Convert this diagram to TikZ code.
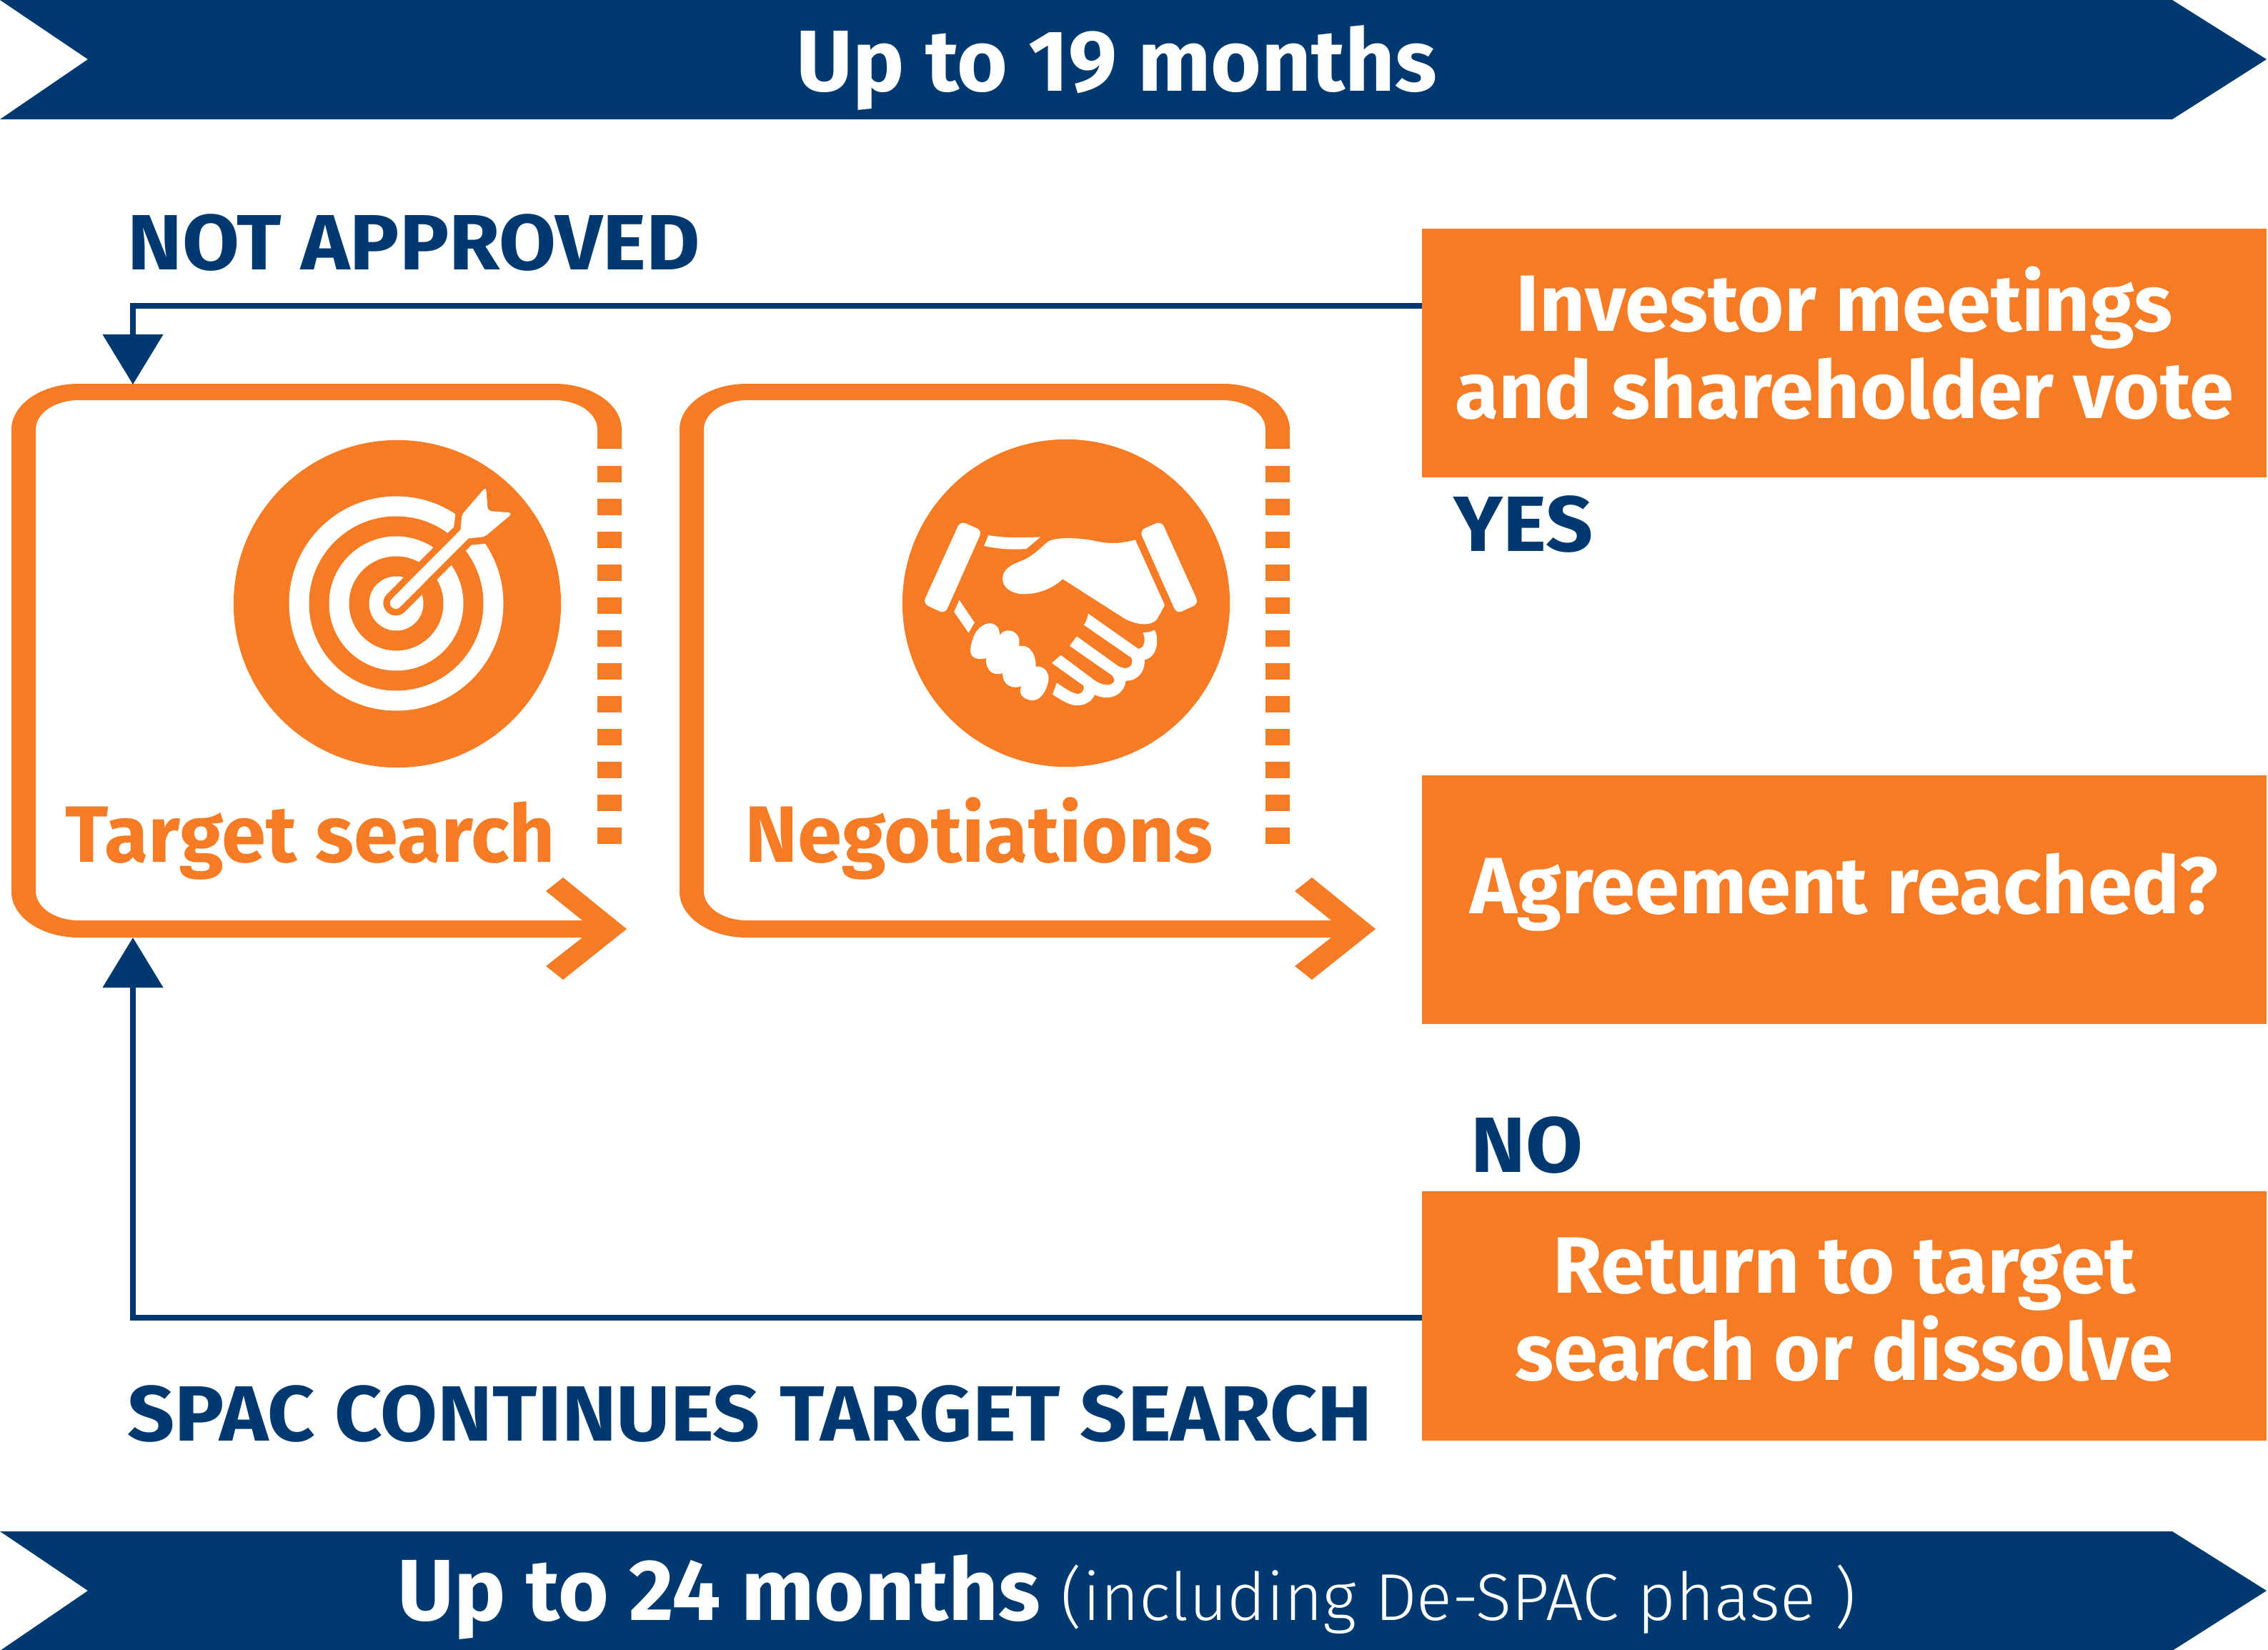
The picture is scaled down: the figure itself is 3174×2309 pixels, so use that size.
\documentclass[tikz,border=0pt]{standalone}
\usepackage{fontspec}
\setmainfont{Fira Sans}
\newfontfamily\lightfont{Fira Sans Light}
\newfontfamily\widefont{Fira Sans}[FakeStretch=1.055]
\usepackage{tikz}
\usetikzlibrary{positioning,arrows.meta}
\definecolor{spacnavy}{RGB}{0,57,112}
\definecolor{spacorange}{RGB}{245,124,36}
\newcommand{\frameloop}[2]{%
  \begin{scope}[shift={(#1,0)}]
    \fill[spacorange] (870,628) -- (870,601) .. controls (870,566) and (828,537) .. (776,537) -- (110,537)
      .. controls (58,537) and (16,566) .. (16,601) -- (16,1248)
      .. controls (16,1283) and (58,1312) .. (110,1312) -- ({815+#2},1312)
      -- ({764+#2},1352) -- ({788+#2},1371) -- ({877+#2},1300) -- ({788+#2},1228) -- ({764+#2},1247)
      -- ({815+#2},1288) -- (110,1288) .. controls (77,1288) and (50,1270) .. (50,1247) -- (50,601)
      .. controls (50,578) and (77,560) .. (110,560) -- (776,560)
      .. controls (809,560) and (836,578) .. (836,601) -- (836,628) -- cycle;
    \foreach \k in {0,...,11}
      \fill[spacorange] (836,{652+46*\k}) rectangle +(34,23);
  \end{scope}}
\newcommand{\bannerarrow}[1]{%
  \fill[spacnavy] (0,#1) -- (3040,#1) -- (3172,{#1+83}) -- (3040,{#1+167}) -- (0,{#1+167}) -- (123,{#1+83}) -- cycle;}

\begin{document}
\begin{tikzpicture}[x=0.01cm,y=-0.01cm,
    stepbox/.style={fill=spacorange,text=white,minimum width=11.82cm,minimum height=3.48cm,
      inner sep=0pt,align=center,font=\fontsize{31.8}{34.5}\selectfont\bfseries},
    bannertext/.style={text=white,anchor=base,inner sep=0pt,font=\fontsize{34.5}{40}\selectfont\bfseries},
    navylabel/.style={text=spacnavy,anchor=base west,inner sep=0pt,font=\widefont\fontsize{31.2}{36}\selectfont\bfseries},
    orangelabel/.style={text=spacorange,anchor=base west,inner sep=0pt,font=\fontsize{31.8}{36}\selectfont\bfseries},
    navyline/.style={draw=spacnavy,line width=0.08cm,-{Triangle[length=0.7cm,width=0.83cm]}}]

    \useasboundingbox (0,0) rectangle (3174,2309);

    % banners
    \bannerarrow{0}
    \bannerarrow{2143}
    \node[bannertext] (top) at (1563,128) {Up to 19 months};
    \node[bannertext] (bottom) at (1577,2267) {Up to 24 months {\lightfont\mdseries\fontsize{26.4}{32}\selectfont (including De-SPAC phase )}};

    % loops
    \frameloop{0}{0}
    \frameloop{935}{113}
    \node[orangelabel] (search) at (91,1206) {Target search};
    \node[orangelabel] (nego) at (1042,1206) {Negotiations};

    % right column
    \node[stepbox,text depth=0.3cm] (invest) at (2581,494) {Investor meetings\\and shareholder vote};
    \node[stepbox,text depth=0.45cm,below=4.15cm of invest] (agree) {Agreement reached?};
    \node[stepbox,text depth=0.2cm,below=2.33cm of agree] (retsearch) {Return to target\\search or dissolve};

    \node[navylabel] (notapp) at (178,378) {NOT APPROVED};
    \node[navylabel] (yes) at (2034,771) {YES};
    \node[navylabel] (no) at (2058,1640) {NO};
    \node[navylabel] (cont) at (178,2016) {SPAC CONTINUES TARGET SEARCH};

    % connectors
    \coordinate (intop) at (186,538);
    \coordinate (inbot) at (186,1312);
    \coordinate (outtop) at (1990,428);
    \coordinate (outbot) at (1990,1844);
    \draw[navyline] (outtop) -| (intop);
    \draw[navyline] (outbot) -| (inbot);

    % target icon
    \node[circle,fill=spacorange,minimum size=4.58cm,inner sep=0pt] (targetdisc) at (556,845) {};
    \foreach \r/\c in {150/white,122/spacorange,94/white,66/spacorange,38/white}
      \fill[\c] (554.5,844.5) circle[radius=\r*0.01cm];
    \begin{scope}[shift={(300,580)},x=0.00333cm,y=-0.00333cm]
      \fill[spacorange] (982,500) -- (1007,475) -- (1014,418) -- (1130,290) -- (1270,420) -- (1140,543) -- (1080,549) -- (1057,573) -- cycle;
      \draw[spacorange,line width=0.35cm,line cap=round] (763,793) -- (1030,525);
      \draw[white,line width=0.163cm,line cap=round] (763,793) -- (1050,505);
      \fill[white] (1035,488) -- (1040,430) .. controls (1042,420) and (1048,412) .. (1055,405) -- (1130,318)
        .. controls (1135,312) and (1143,308) .. (1143,318) -- (1149,390) .. controls (1150,400) and (1158,406) .. (1168,407)
        -- (1238,412) .. controls (1246,413) and (1248,420) .. (1243,425) -- (1150,503)
        .. controls (1142,510) and (1130,516) .. (1120,516) -- (1067,521) -- cycle;
    \end{scope}

    % handshake icon
    \node[circle,fill=spacorange,minimum size=4.58cm,inner sep=0pt] (handdisc) at (1492,844) {};
    \begin{scope}[shift={(1240,600)},x=0.00333cm,y=-0.00333cm]
      \fill[white,rounded corners=0.08cm] (312,388) -- (404,428) -- (248,778) -- (155,735) -- cycle;
      \fill[white,rounded corners=0.08cm] (1158,388) -- (1066,428) -- (1222,778) -- (1315,735) -- cycle;
      \fill[white] (430,448) .. controls (500,460) and (580,458) .. (650,455) -- (590,505)
        .. controls (530,510) and (470,505) .. (412,493) -- cycle;
      \fill[white] (308,720) -- (372,815) -- (347,858) -- (286,770) -- cycle;
      \fill[white] (1048,467) -- (1172,742) -- (1140,800) .. controls (1120,830) and (1050,830) .. (990,790)
        -- (743,632) .. controls (690,680) and (630,695) .. (580,695) .. controls (530,695) and (490,670) .. (490,630)
        .. controls (490,590) and (530,570) .. (570,555) .. controls (620,535) and (650,500) .. (680,475)
        .. controls (710,455) and (800,458) .. (860,468) .. controls (920,480) and (960,490) .. (1048,467) -- cycle;
      \fill[white] (375,860) .. controls (400,820) and (440,805) .. (465,830) .. controls (475,840) and (478,855) .. (478,868)
        .. controls (500,835) and (550,845) .. (560,885) -- (560,915)
        .. controls (590,905) and (630,930) .. (630,1000) .. controls (660,995) and (688,1020) .. (683,1060)
        .. controls (670,1120) and (640,1145) .. (610,1142) .. controls (570,1135) and (555,1110) .. (570,1082)
        .. controls (540,1095) and (490,1085) .. (490,1028) .. controls (450,1040) and (420,1020) .. (420,965)
        .. controls (380,975) and (350,960) .. (355,925) .. controls (358,900) and (365,880) .. (375,860) -- cycle;
      \fill[white] (850,777) -- (1060,925) .. controls (1085,925) and (1095,890) .. (1080,857)
        .. controls (1100,858) and (1115,852) .. (1130,846) .. controls (1150,890) and (1140,960) .. (1087,972)
        .. controls (1090,1020) and (1060,1060) .. (1008,1060) .. controls (1005,1100) and (970,1130) .. (930,1130)
        .. controls (905,1130) and (890,1125) .. (878,1118) .. controls (860,1160) and (810,1170) .. (780,1160)
        .. controls (750,1150) and (720,1130) .. (700,1117) -- (718,1068) .. controls (750,1090) and (785,1115) .. (810,1115)
        .. controls (830,1112) and (835,1090) .. (830,1080) -- (697,985) -- (735,952) -- (880,1060)
        .. controls (910,1080) and (950,1085) .. (960,1060) .. controls (960,1045) and (950,1035) .. (940,1030)
        -- (772,913) -- (802,873) -- (975,997) .. controls (1000,1012) and (1035,1012) .. (1035,975)
        .. controls (1035,960) and (1025,960) .. (1020,955) -- (832,825) .. controls (845,805) and (848,790) .. (850,777) -- cycle;
    \end{scope}

\end{tikzpicture}
\end{document}
